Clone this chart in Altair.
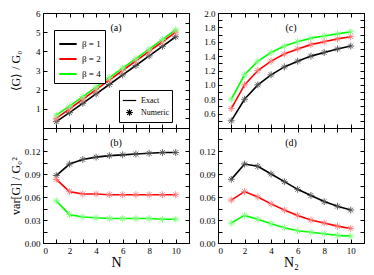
import altair as alt
import pandas as pd

N = [1, 2, 3, 4, 5, 6, 7, 8, 9, 10]
betas = ["β = 1", "β = 2", "β = 4"]

a_b1 = [0.33, 0.80, 1.29, 1.78, 2.27, 2.77, 3.26, 3.76, 4.26, 4.76]
a_b2 = [0.50, 1.00, 1.50, 2.00, 2.50, 3.00, 3.50, 4.00, 4.50, 5.00]
a_b4 = [0.67, 1.14, 1.64, 2.13, 2.63, 3.12, 3.62, 4.12, 4.62, 5.13]

c_b1 = [0.50, 0.80, 1.00, 1.14, 1.25, 1.33, 1.40, 1.45, 1.50, 1.54]
c_b2 = [0.67, 1.00, 1.20, 1.33, 1.43, 1.50, 1.56, 1.60, 1.64, 1.67]
c_b4 = [0.80, 1.14, 1.33, 1.45, 1.54, 1.60, 1.65, 1.68, 1.71, 1.74]

b_b1 = [0.088, 0.103, 0.109, 0.112, 0.114, 0.115, 0.116, 0.117, 0.118, 0.118]
b_b2 = [0.083, 0.067, 0.064, 0.064, 0.063, 0.063, 0.063, 0.063, 0.063, 0.063]
b_b4 = [0.055, 0.037, 0.034, 0.033, 0.032, 0.032, 0.032, 0.032, 0.031, 0.031]

d_b1 = [0.083, 0.103, 0.100, 0.090, 0.080, 0.070, 0.062, 0.054, 0.048, 0.043]
d_b2 = [0.056, 0.067, 0.060, 0.051, 0.043, 0.036, 0.030, 0.026, 0.022, 0.019]
d_b4 = [0.026, 0.036, 0.031, 0.025, 0.020, 0.016, 0.014, 0.012, 0.010, 0.009]

x_ticks = [0, 1, 2, 3, 4, 5, 6, 7, 8, 9, 10, 11]
ya_ticks = [0, 0.5, 1, 1.5, 2, 2.5, 3, 3.5, 4, 4.5, 5, 5.5, 6]
yc_ticks = [0.4, 0.5, 0.6, 0.7, 0.8, 0.9, 1.0, 1.1, 1.2, 1.3, 1.4, 1.5, 1.6, 1.7, 1.8, 1.9, 2.0]
yv_ticks = [0, 0.015, 0.03, 0.045, 0.06, 0.075, 0.09, 0.105, 0.12, 0.135, 0.15]

W, H = 146, 115
FONT = "Liberation Serif"
AST = "M-0.5,0L0.5,0M0,-0.5L0,0.5M-0.35,-0.35L0.35,0.35M-0.35,0.35L0.35,-0.35"

color_legend = alt.Legend(title=None, orient="none", legendX=11, legendY=17,
                          symbolType="stroke", symbolSize=300, symbolStrokeWidth=2,
                          strokeColor="black", fillColor="white", padding=4,
                          labelFont=FONT, labelFontSize=9, rowPadding=0)
shape_legend = alt.Legend(title=None, orient="none", legendX=76, legendY=77,
                          symbolSize=180, symbolStrokeColor="black", symbolStrokeWidth=1.2,
                          strokeColor="black", fillColor="white", padding=3,
                          labelFont=FONT, labelFontSize=8, rowPadding=0)


def make_df(s1, s2, s4):
    rows = []
    for b, s in zip(betas, [s1, s2, s4]):
        for n, v in zip(N, s):
            rows.append({"n": n, "value": v, "beta": b, "kind": "Numeric"})
    return pd.DataFrame(rows)


def panel(df, ydom, yticks, ylab_test, yfmt, xlabels, ytitle, xtitle, tag, ytitle_x):
    xscale = alt.Scale(domain=[0, 11], nice=False, zero=False)
    yscale = alt.Scale(domain=ydom, nice=False, zero=False)
    xaxis = alt.Axis(orient="bottom", values=x_ticks, offset=-4, tickSize=4, domain=False,
                     grid=False, labels=xlabels,
                     labelExpr="(datum.value % 2 === 0 && datum.value <= 10) ? datum.label : ''",
                     labelPadding=3, title=xtitle, titleFont=FONT, titleFontSize=14,
                     titleFontWeight="normal", titlePadding=0)
    yaxis = alt.Axis(orient="left", values=yticks, offset=-4, tickSize=4, domain=False,
                     grid=False, format=yfmt,
                     labelExpr="(" + ylab_test + ") ? datum.label : ''",
                     labelPadding=3, title=ytitle, titleFont=FONT, titleFontSize=12,
                     titleFontWeight="normal", titleX=ytitle_x, titleY=H / 2)
    base = alt.Chart(df)
    lines = base.mark_line(strokeWidth=1.6).encode(
        x=alt.X("n:Q", scale=xscale, axis=xaxis),
        y=alt.Y("value:Q", scale=yscale, axis=yaxis),
        color=alt.Color("beta:N", scale=alt.Scale(domain=betas, range=["black", "#ff0000", "#00ff00"]),
                        legend=color_legend),
    )
    pts = base.mark_point(filled=False, size=190, strokeWidth=0.9, opacity=1).encode(
        x=alt.X("n:Q", scale=xscale, axis=None),
        y=alt.Y("value:Q", scale=yscale, axis=None),
        stroke=alt.Stroke("beta:N", scale=alt.Scale(domain=betas, range=["#555555", "#ff7a7a", "#7aff7a"]),
                          legend=None),
        shape=alt.Shape("kind:N", scale=alt.Scale(domain=["Exact", "Numeric"], range=["stroke", AST]),
                        legend=shape_legend),
    )
    mirror = base.mark_point(opacity=0).encode(
        x=alt.X("n:Q", scale=xscale,
                axis=alt.Axis(orient="top", values=x_ticks, offset=-4, tickSize=4, domain=False,
                              grid=False, labels=False, title="")),
        y=alt.Y("value:Q", scale=yscale,
                axis=alt.Axis(orient="right", values=yticks, offset=-4, tickSize=4, domain=False,
                              grid=False, labels=False, title="")),
    )
    txt = alt.Chart(pd.DataFrame({"t": [tag]})).mark_text(font=FONT, fontSize=10, color="black").encode(
        x=alt.value(W / 2), y=alt.value(15), text="t:N")
    return alt.layer(lines, pts, mirror, txt).resolve_axis(x="independent", y="independent").properties(
        width=W, height=H)


dfa = make_df(a_b1, a_b2, a_b4)
dfc = make_df(c_b1, c_b2, c_b4)
dfb = make_df(b_b1, b_b2, b_b4)
dfd = make_df(d_b1, d_b2, d_b4)

VTEST = "round(datum.value / 0.015) % 2 === 0 && datum.value < 0.14"
pa = panel(dfa, [0, 6], ya_ticks, "datum.value % 1 === 0 && datum.value > 0", "d", False,
           "⟨G⟩ / G₀", "", "(a)", -25)
pc = panel(dfc, [0.4, 2.0], yc_ticks, "round(datum.value * 10) % 2 === 0 && datum.value > 0.45", ".1f",
           False, "", "", "(c)", -25)
pb = panel(dfb, [0, 0.15], yv_ticks, VTEST, ".2f", True, "var[G] / G₀²", "N", "(b)", -25)
pd_ = panel(dfd, [0, 0.15], yv_ticks, VTEST, ".2f", True, "", "N₂", "(d)", -25)

chart = alt.concat(pa, pc, pb, pd_, columns=2, spacing={"row": 0, "column": 29}, bounds="flush").resolve_scale(
    x="independent", y="independent"
).properties(padding={"left": 0, "top": 0, "right": 0, "bottom": 0}).configure_view(
    stroke="black", strokeWidth=1
).configure_axis(
    labelFont=FONT, labelFontSize=9, labelColor="black", tickColor="black", titleColor="black"
).configure_legend(labelColor="black")

chart.save("out.html", embed_options={"renderer": "svg", "actions": False})
